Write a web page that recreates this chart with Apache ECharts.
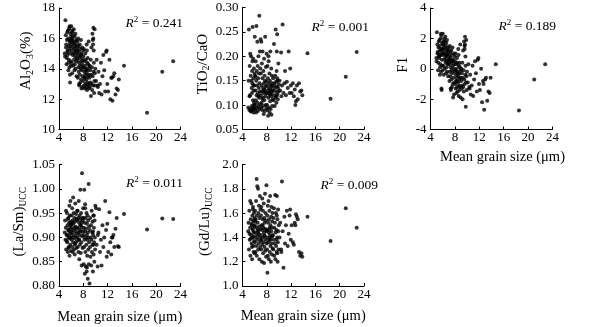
<!DOCTYPE html>
<html>
<head>
<meta charset="utf-8">
<script src="https://cdn.jsdelivr.net/npm/echarts@6/dist/echarts.min.js"></script>
<style>
  html, body { margin: 0; padding: 0; background: #fff; }
  #chart { width: 610px; height: 327px; }
</style>
</head>
<body>
<div id="chart"></div>
<script>
// mean grain size (um), shared by all five panels
const grainSize = [
  4.95,5.0,5.06,5.12,5.18,5.24,5.3,5.35,5.4,5.45,5.5,5.54,5.58,5.62,5.66,5.7,5.73,5.76,5.79,5.82,5.85,5.88,5.91,5.94,5.97,6.0,5.15,5.27,5.38,5.48,5.56,5.64,5.72,5.8,5.9,
  6.02,6.05,6.08,6.11,6.14,6.17,6.2,6.23,6.26,6.29,6.32,6.35,6.38,6.41,6.44,6.47,6.5,6.53,6.56,6.59,6.62,6.65,6.68,6.71,6.74,6.77,6.8,6.83,6.86,6.89,6.92,6.95,6.98,6.15,6.6,
  7.01,7.04,7.07,7.1,7.13,7.16,7.19,7.22,7.25,7.28,7.31,7.34,7.37,7.4,7.43,7.46,7.49,7.52,7.55,7.58,7.61,7.64,7.67,7.7,7.73,7.76,7.79,7.82,7.85,7.88,7.91,7.94,7.97,7.3,7.6,
  8.01,8.04,8.07,8.1,8.13,8.16,8.19,8.22,8.25,8.28,8.31,8.34,8.37,8.4,8.43,8.46,8.49,8.52,8.55,8.58,8.61,8.64,8.67,8.7,8.73,8.76,8.79,8.82,8.85,8.88,8.91,8.94,8.97,8.3,8.6,
  9.02,9.06,9.1,9.14,9.18,9.22,9.26,9.3,9.34,9.38,9.42,9.46,9.5,9.54,9.58,9.62,9.66,9.7,9.74,9.78,9.82,9.86,9.9,9.94,9.98,9.6,9.65,9.72,
  10.1,10.2,10.35,10.5,10.6,10.75,10.9,11.0,11.15,11.3,11.45,11.6,11.75,11.85,11.95,10.4,
  12.1,12.3,12.45,12.6,12.8,12.95,13.1,13.3,13.5,13.7,13.85,12.7,
  14.7,18.5,21.0,22.8
];

const al2o3 = [
  15.0,14.8,17.2,16.2,15.6,14.3,15.9,16.4,14.9,15.2,16.0,13.9,15.5,14.6,16.6,15.3,14.1,16.8,15.7,13.1,15.0,16.3,14.5,15.8,14.2,16.1,15.4,14.7,15.1,16.5,14.4,15.9,16.7,13.6,15.5,
  16.8,15.2,14.4,16.0,15.6,13.7,15.9,16.5,14.9,15.4,16.2,14.2,15.7,15.0,16.6,14.6,15.3,15.8,13.9,16.1,15.1,14.8,15.5,16.3,14.0,15.6,15.2,14.5,15.9,13.5,15.0,14.7,15.4,16.4,14.3,
  15.8,14.6,15.2,13.4,14.9,16.0,14.1,15.5,13.8,14.4,15.1,12.9,14.7,15.6,13.6,14.2,15.3,13.1,14.8,14.0,15.9,13.3,14.5,12.7,15.0,13.9,14.3,15.4,12.8,14.6,13.5,14.1,15.2,13.0,14.9,
  14.8,13.2,14.1,15.3,12.9,13.8,14.5,13.4,12.7,14.2,13.6,15.0,13.0,14.6,13.9,12.8,14.0,13.3,15.6,13.7,12.6,14.4,13.1,13.9,14.7,12.9,13.5,14.3,13.0,15.8,13.6,12.7,14.1,13.4,15.2,
  13.4,14.2,12.8,13.9,13.1,14.6,12.2,13.6,15.4,13.0,14.1,12.6,16.3,13.5,15.9,12.9,16.7,13.8,14.4,12.4,13.2,16.6,13.7,12.9,14.0,15.6,16.0,15.2,
  13.2,14.6,12.9,13.8,12.4,13.0,14.4,12.3,13.5,14.9,13.9,12.5,15.1,15.2,13.0,12.8,
  12.5,14.6,12.0,13.4,11.9,13.5,13.7,12.3,12.7,12.6,13.3,13.4,
  14.2,11.1,13.8,14.5
];

const tio2Cao = [
  0.095,0.150,0.255,0.090,0.180,0.120,0.092,0.160,0.200,0.088,0.135,0.098,0.170,0.145,0.260,0.090,0.110,0.195,0.155,0.085,0.130,0.175,0.100,0.140,0.092,0.165,0.118,0.205,0.087,0.150,0.125,0.190,0.095,0.140,0.105,
  0.240,0.100,0.160,0.092,0.130,0.190,0.110,0.085,0.150,0.262,0.120,0.170,0.095,0.140,0.230,0.105,0.180,0.088,0.125,0.155,0.200,0.098,0.135,0.165,0.115,0.283,0.145,0.092,0.210,0.128,0.175,0.102,0.235,0.158,0.118,
  0.120,0.165,0.095,0.230,0.140,0.105,0.185,0.128,0.090,0.155,0.210,0.115,0.135,0.098,0.170,0.125,0.082,0.145,0.195,0.110,0.132,0.160,0.088,0.150,0.240,0.118,0.138,0.100,0.178,0.125,0.093,0.148,0.205,0.112,0.130,
  0.140,0.100,0.125,0.180,0.090,0.155,0.130,0.078,0.115,0.200,0.135,0.095,0.145,0.122,0.165,0.085,0.128,0.150,0.108,0.210,0.132,0.092,0.140,0.118,0.175,0.080,0.138,0.125,0.160,0.098,0.145,0.130,0.112,0.190,0.122,
  0.130,0.155,0.110,0.140,0.225,0.120,0.145,0.098,0.135,0.160,0.115,0.255,0.128,0.148,0.105,0.170,0.138,0.245,0.122,0.150,0.112,0.135,0.185,0.128,0.142,0.118,0.210,0.155,
  0.150,0.130,0.208,0.140,0.265,0.125,0.145,0.170,0.120,0.148,0.135,0.210,0.125,0.175,0.140,0.118,
  0.125,0.145,0.118,0.132,0.108,0.140,0.112,0.145,0.128,0.130,0.120,0.100,
  0.206,0.113,0.158,0.209
];

const f1 = [
  0.7,0.5,2.4,1.6,1.1,-0.1,1.4,1.8,0.9,0.8,1.5,-0.4,1.2,0.3,2.0,0.9,-0.2,2.2,1.3,-1.4,0.6,1.7,0.2,1.3,-0.1,1.6,1.0,0.4,0.7,1.9,0.1,1.2,2.3,-1.3,1.0,
  2.3,0.9,0.2,1.6,1.1,-0.4,1.4,2.0,0.6,1.0,1.8,0.0,1.3,0.7,2.1,0.4,0.9,1.5,-0.3,1.7,0.8,0.5,1.2,1.9,-0.2,1.1,0.9,0.3,1.4,-0.5,0.6,0.4,1.0,1.8,0.1,
  1.3,0.3,0.8,-0.8,0.6,1.5,-0.2,1.1,-0.5,0.1,0.7,-1.4,0.4,1.2,-0.7,-0.1,0.9,-1.2,0.5,-0.3,1.4,-1.0,0.2,-1.9,0.6,-0.6,0.0,1.0,-1.7,0.3,-0.9,-0.2,0.8,-1.3,0.5,
  0.5,-1.0,-0.1,1.0,-1.3,-0.4,0.3,-0.8,-1.6,0.0,-0.6,0.7,-1.2,0.4,-0.3,-1.5,-0.2,-0.9,1.3,-0.5,-1.8,0.2,-1.1,-0.3,0.4,-1.4,-0.7,0.1,-1.2,1.6,-0.6,-1.9,-0.1,-0.8,0.9,
  -0.8,0.0,-1.3,-0.3,-1.1,0.4,-2.0,-0.6,1.2,-1.2,-0.1,-1.5,1.8,-0.7,1.5,-1.0,2.1,-0.4,0.2,-2.5,-0.9,1.9,-0.5,-1.4,-0.2,1.3,1.6,0.8,
  -0.9,0.3,-1.2,-0.4,-1.7,-1.1,0.2,-1.8,-0.7,0.5,-0.3,-1.5,0.6,0.7,-1.0,-1.3,
  -1.4,0.0,-2.2,-0.8,-2.7,-0.7,-0.6,-2.1,-1.5,-1.6,-0.6,-1.0,
  0.3,-2.75,-0.7,0.3
];

const laSm = [
  0.910,0.935,0.895,0.920,0.875,0.905,0.950,0.890,0.925,0.870,0.915,0.940,0.900,0.880,0.930,0.912,0.862,0.945,0.898,0.922,0.885,0.975,0.908,0.932,0.872,0.918,0.955,0.893,0.905,0.938,0.878,0.915,0.965,0.902,0.927,
  0.925,0.895,0.945,0.910,0.880,0.960,0.900,0.935,0.870,0.915,0.982,0.890,0.928,0.905,0.950,0.875,0.920,0.940,0.898,0.865,0.932,0.912,0.970,0.888,0.922,0.902,0.948,0.878,0.918,0.938,0.892,0.908,0.955,0.930,0.885,
  0.935,0.900,0.955,0.880,0.920,0.940,0.870,0.910,0.975,0.895,0.930,0.855,0.915,0.945,0.905,0.885,0.925,0.998,0.938,0.868,0.912,0.950,0.890,0.930,0.842,0.920,1.032,0.902,0.940,0.878,0.935,0.912,0.960,0.895,0.925,
  0.905,0.940,0.845,0.920,0.880,0.998,0.895,0.930,0.825,0.912,0.960,0.870,0.900,0.940,0.840,0.918,0.885,0.950,0.830,0.905,0.928,0.862,0.895,0.945,0.815,0.910,0.935,0.875,0.900,1.010,0.845,0.922,0.890,0.968,0.838,
  0.805,0.915,0.880,0.940,0.860,0.900,0.925,0.842,0.895,0.955,0.870,0.910,0.932,0.885,0.830,0.905,0.945,0.865,0.920,0.890,0.850,0.935,0.900,0.875,0.965,0.912,0.885,0.945,
  0.960,0.885,0.840,0.910,0.958,0.870,0.895,0.842,0.925,0.880,0.900,0.975,0.915,0.860,0.928,0.905,
  0.870,0.952,0.890,0.865,0.900,0.905,0.880,0.918,0.940,0.882,0.880,0.900,
  0.948,0.916,0.939,0.938
];

const gdLu = [
  1.45,1.52,1.30,1.62,1.38,1.48,1.25,1.55,1.42,1.68,1.35,1.50,1.22,1.58,1.40,1.46,1.65,1.33,1.53,1.28,1.44,1.60,1.37,1.49,1.56,1.27,1.43,1.70,1.39,1.51,1.32,1.47,1.63,1.41,1.54,
  1.50,1.36,1.62,1.44,1.28,1.55,1.40,1.70,1.33,1.48,1.88,1.25,1.58,1.42,1.82,1.38,1.52,1.46,1.80,1.30,1.60,1.43,1.35,1.66,1.49,1.22,1.56,1.40,1.74,1.32,1.47,1.63,1.37,1.53,1.45,
  1.42,1.58,1.30,1.65,1.38,1.50,1.20,1.46,1.72,1.34,1.55,1.40,1.62,1.27,1.48,1.36,1.68,1.44,1.19,1.56,1.32,1.52,1.41,1.76,1.29,1.47,1.60,1.38,1.54,1.24,1.45,1.83,1.35,1.50,1.42,
  1.46,1.30,1.58,1.11,1.40,1.66,1.25,1.52,1.36,1.70,1.44,1.22,1.55,1.38,1.62,1.48,1.28,1.42,1.74,1.33,1.50,1.40,1.20,1.57,1.45,1.65,1.35,1.48,1.26,1.53,1.41,1.60,1.31,1.46,1.38,
  1.42,1.30,1.56,1.38,1.64,1.25,1.48,1.35,1.52,1.75,1.22,1.44,1.60,1.33,1.46,1.28,1.74,1.40,1.55,1.20,1.36,1.63,1.45,1.30,1.50,1.38,1.58,1.27,
  1.40,1.52,1.30,1.86,1.45,1.15,1.57,1.35,1.50,1.62,1.33,1.43,1.58,1.63,1.38,1.28,
  1.50,1.36,1.34,1.52,1.59,1.57,1.55,1.28,1.25,1.27,1.24,1.50,
  1.57,1.37,1.64,1.48
];

const r2Labels = ['0.241', '0.001', '0.189', '0.011', '0.009'];
const xAxisTitle = 'Mean grain size (\u03bcm)';

const FONT = "'Liberation Serif', 'Times New Roman', serif";

const subRich = {
  s: { fontFamily: FONT, fontSize: 10, lineHeight: 10, verticalAlign: 'bottom', color: '#000' },
  u: { fontFamily: FONT, fontSize: 9.5, lineHeight: 10, verticalAlign: 'bottom', color: '#000' }
};

// yShift: how far the y-axis title sits above the middle of the axis (x2, via padding)
const panels = [
  { grid: { left: 59, top: 8, width: 121.5, height: 121.5 }, values: al2o3,
    min: 10, max: 18, interval: 2, dec: 0, yName: 'Al{s|2}O{s|3}(%)', yGap: 24, yShift: 16,
    xName: false, r2At: [183, 23] },
  { grid: { left: 242.5, top: 7.5, width: 121.5, height: 122 }, values: tio2Cao,
    min: 0.05, max: 0.30, interval: 0.05, dec: 2, yName: 'TiO{s|2}/CaO', yGap: 30, yShift: 9,
    xName: false, r2At: [369, 27] },
  { grid: { left: 430.5, top: 8, width: 122, height: 121.5 }, values: f1,
    min: -4, max: 4, interval: 2, dec: 0, yName: 'F1', yGap: 17, yShift: 8,
    xName: true, xGap: 20, xPad: 22, r2At: [556, 26] },
  { grid: { left: 59, top: 164.5, width: 121.5, height: 121.5 }, values: laSm,
    min: 0.80, max: 1.05, interval: 0.05, dec: 2, yName: '(La/Sm){u|UCC}', yGap: 24, yShift: 7,
    xName: true, xGap: 24, xPad: 0, r2At: [183, 183] },
  { grid: { left: 242.5, top: 164.5, width: 121.5, height: 121.5 }, values: gdLu,
    min: 1.0, max: 2.0, interval: 0.2, dec: 1, yName: '(Gd/Lu){u|UCC}', yGap: 28, yShift: 7,
    xName: true, xGap: 23, xPad: 0, r2At: [378, 185] }
];

const axisCommon = {
  axisLine: { show: true, onZero: false, lineStyle: { color: '#000', width: 1 } },
  axisTick: { show: true, inside: true, length: 3, lineStyle: { color: '#000', width: 1 } },
  splitLine: { show: false }
};

const chart = echarts.init(document.getElementById('chart'));

chart.setOption({
  animation: false,
  backgroundColor: '#fff',
  grid: panels.map((p) => p.grid),
  xAxis: panels.map((p, i) => ({
    type: 'value',
    gridIndex: i,
    min: 4,
    max: 24,
    interval: 4,
    ...axisCommon,
    axisLabel: { color: '#000', fontFamily: FONT, fontSize: 13, margin: 2 },
    name: p.xName ? xAxisTitle : '',
    nameLocation: 'middle',
    nameGap: p.xGap || 20,
    nameTextStyle: { color: '#000', fontFamily: FONT, fontSize: 14.5, padding: [0, 0, 0, p.xPad || 0] }
  })),
  yAxis: panels.map((p, i) => ({
    type: 'value',
    gridIndex: i,
    min: p.min,
    max: p.max,
    interval: p.interval,
    ...axisCommon,
    axisLabel: {
      color: '#000', fontFamily: FONT, fontSize: 13, margin: 4,
      formatter: (v) => v.toFixed(p.dec)
    },
    name: p.yName,
    nameLocation: 'middle',
    nameRotate: 90,
    nameGap: p.yGap,
    nameTextStyle: {
      color: '#000', fontFamily: FONT, fontSize: 15, lineHeight: 18,
      padding: [0, 0, 0, p.yShift], rich: subRich
    }
  })),
  series: panels.map((p, i) => ({
    type: 'scatter',
    xAxisIndex: i,
    yAxisIndex: i,
    symbol: 'circle',
    symbolSize: 4,
    silent: true,
    itemStyle: { color: '#000' },
    data: grainSize.map((x, k) => [x, p.values[k]])
  })),
  graphic: panels.map((p, i) => ({
    type: 'text',
    x: p.r2At[0],
    y: p.r2At[1],
    style: {
      text: '{i|R}{p|2}{t| = ' + r2Labels[i] + '}',
      align: 'right',
      verticalAlign: 'middle',
      rich: {
        i: { fontFamily: FONT, fontSize: 13.5, fontStyle: 'italic', lineHeight: 16, fill: '#000' },
        p: { fontFamily: FONT, fontSize: 9, lineHeight: 9, verticalAlign: 'top', fill: '#000' },
        t: { fontFamily: FONT, fontSize: 13.5, lineHeight: 16, fill: '#000' }
      }
    }
  }))
});
</script>
</body>
</html>
